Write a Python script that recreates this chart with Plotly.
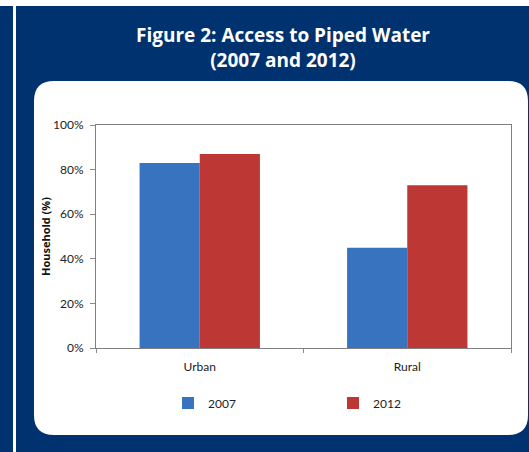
import plotly.graph_objects as go

# Household access to piped water, share of households
areas = ["Urban", "Rural"]
years = ["2007", "2012"]
access_2007 = [0.83, 0.45]
access_2012 = [0.87, 0.73]
y_ticks = [0, 0.2, 0.4, 0.6, 0.8, 1.0]

W, H = 529, 452
ML, MR, MT, MB = 96, 18, 125, 104
PW, PH = W - ML - MR, H - MT - MB

NAVY = "#00326f"
BLUE = "#3873c0"
RED = "#bd3735"
TEXT_FONT = "Lato"


def px_x(px):
    return (px - ML) / PW


def px_y(py):
    return (H - MB - py) / PH


def rounded_rect(x0, y0, x1, y1, r):
    pts = [
        ("M", x0 + r, y0), ("L", x1 - r, y0), ("Q", x1, y0, x1, y0 + r),
        ("L", x1, y1 - r), ("Q", x1, y1, x1 - r, y1), ("L", x0 + r, y1),
        ("Q", x0, y1, x0, y1 - r), ("L", x0, y0 + r), ("Q", x0, y0, x0 + r, y0),
    ]
    out = []
    for p in pts:
        if p[0] == "Q":
            out.append(f"Q{px_x(p[1]):.5f},{px_y(p[2]):.5f} {px_x(p[3]):.5f},{px_y(p[4]):.5f}")
        else:
            out.append(f"{p[0]}{px_x(p[1]):.5f},{px_y(p[2]):.5f}")
    return " ".join(out) + " Z"


fig = go.Figure()
fig.add_trace(go.Bar(x=areas, y=access_2007, name=years[0],
                     marker=dict(color=BLUE, line=dict(width=0))))
fig.add_trace(go.Bar(x=areas, y=access_2012, name=years[1],
                     marker=dict(color=RED, line=dict(width=0))))

shapes = [
    # white strip along the top edge
    dict(type="rect", xref="paper", yref="paper", layer="below",
         x0=px_x(0), x1=px_x(W), y0=px_y(6), y1=px_y(0),
         fillcolor="white", line=dict(width=0)),
    # white vertical rule on the left
    dict(type="rect", xref="paper", yref="paper", layer="below",
         x0=px_x(13), x1=px_x(16), y0=px_y(H), y1=px_y(6),
         fillcolor="white", line=dict(width=0)),
    # rounded white chart panel
    dict(type="path", xref="paper", yref="paper", layer="below",
         path=rounded_rect(34, 81, 528, 435, 20),
         fillcolor="white", line=dict(width=0)),
]

fig.update_layout(
    width=W, height=H,
    margin=dict(l=ML, r=MR, t=MT, b=MB, autoexpand=False),
    paper_bgcolor=NAVY,
    plot_bgcolor="white",
    barmode="group",
    bargap=0.42,
    bargroupgap=0,
    shapes=shapes,
    font=dict(family=TEXT_FONT, size=12, color="#222222"),
    showlegend=True,
    legend=dict(orientation="h", x=px_x(168), xanchor="left",
                y=px_y(403), yanchor="middle",
                entrywidth=120, entrywidthmode="pixels",
                font=dict(family=TEXT_FONT, size=12, color="#222222"),
                bgcolor="rgba(0,0,0,0)", traceorder="normal"),
    annotations=[
        dict(text="<b>Figure 2: Access to Piped Water</b><br><b>(2007 and 2012)</b>",
             xref="paper", yref="paper", x=px_x(283), y=px_y(47),
             xanchor="center", yanchor="middle", showarrow=False,
             font=dict(family="Open Sans", size=19, color="white")),
    ],
)

fig.update_yaxes(
    range=[0, 1], tickvals=y_ticks, tickformat=".0%",
    ticks="outside", ticklen=5, tickcolor="#8a8a8a",
    ticklabelstandoff=4,
    showline=True, linecolor="#808080", linewidth=1, mirror=True,
    showgrid=False, zeroline=False,
    title=dict(text="<b>Household (%)</b>", standoff=0,
               font=dict(family="Open Sans", size=11, color="#111111")),
)
fig.update_xaxes(
    ticks="outside", ticklen=4, tickcolor="#8a8a8a", tickson="boundaries",
    ticklabelstandoff=8,
    showline=True, linecolor="#808080", linewidth=1, mirror=True,
    showgrid=False,
)

fig.write_html("out.html")
